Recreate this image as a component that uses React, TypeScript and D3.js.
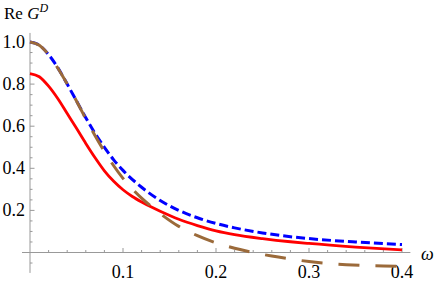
import React from "react";
import * as d3 from "d3";

const omegaRed = [0, 0.01, 0.02, 0.03, 0.04, 0.05, 0.06, 0.07, 0.08, 0.09, 0.1, 0.11, 0.12, 0.13, 0.14, 0.16, 0.18, 0.2, 0.22, 0.25, 0.28, 0.3, 0.35, 0.4];
const valRed = [0.85, 0.835, 0.79, 0.73, 0.66, 0.59, 0.518, 0.45, 0.388, 0.338, 0.298, 0.266, 0.24, 0.217, 0.196, 0.158, 0.128, 0.103, 0.085, 0.066, 0.051, 0.043, 0.026, 0.012];

const omegaBlue = [0, 0.01, 0.02, 0.03, 0.04, 0.05, 0.06, 0.07, 0.08, 0.09, 0.1, 0.12, 0.14, 0.16, 0.18, 0.2, 0.22, 0.25, 0.28, 0.3, 0.35, 0.4];
const valBlue = [1.0, 0.985, 0.94, 0.877, 0.8, 0.72, 0.64, 0.565, 0.5, 0.44, 0.39, 0.31, 0.247, 0.2, 0.165, 0.138, 0.117, 0.093, 0.075, 0.066, 0.05, 0.038];

const omegaBrown = [0, 0.01, 0.02, 0.03, 0.04, 0.05, 0.06, 0.07, 0.08, 0.09, 0.1, 0.11, 0.12, 0.13, 0.14, 0.16, 0.18, 0.2, 0.22, 0.24, 0.26, 0.28, 0.3, 0.32, 0.34, 0.36, 0.38, 0.4];
const valBrown = [1.0, 0.985, 0.94, 0.875, 0.8, 0.72, 0.635, 0.555, 0.48, 0.412, 0.352, 0.302, 0.258, 0.22, 0.185, 0.124, 0.08, 0.046, 0.02, 0.0, -0.017, -0.031, -0.043, -0.052, -0.058, -0.062, -0.064, -0.065];

const xMajor = [0.1, 0.2, 0.3, 0.4];
const xTickLabels = ["0.1", "0.2", "0.3", "0.4"];
const xMinor = [0.02, 0.04, 0.06, 0.08, 0.12, 0.14, 0.16, 0.18, 0.22, 0.24, 0.26, 0.28, 0.32, 0.34, 0.36, 0.38];
const yMajor = [0.2, 0.4, 0.6, 0.8, 1.0];
const yTickLabels = ["0.2", "0.4", "0.6", "0.8", "1.0"];
const yMinor = [-0.05, 0.05, 0.1, 0.15, 0.25, 0.3, 0.35, 0.45, 0.5, 0.55, 0.65, 0.7, 0.75, 0.85, 0.9, 0.95];

export default function App() {
  const W = 436, H = 282;
  const x = d3.scaleLinear().domain([0, 0.4]).range([30, 402]);
  const y = d3.scaleLinear().domain([0, 1]).range([252.5, 42]);
  const line = d3.line<[number, number]>().x(d => x(d[0])).y(d => y(d[1])).curve(d3.curveMonotoneX);
  const mk = (xs: number[], vs: number[]) => line(xs.map((o, i) => [o, vs[i]] as [number, number])) || "";
  const axisColor = "#999";
  const ff = "'Liberation Serif', 'Times New Roman', Times, serif";
  return (
    <svg width={W} height={H} style={{ position: "absolute", left: 0, top: 0 }}>
      <rect width={W} height={H} fill="white" />
      <line x1={x(-0.0086)} x2={x(0.409)} y1={y(0)} y2={y(0)} stroke={axisColor} strokeWidth={1} />
      <line x1={x(0)} x2={x(0)} y1={y(1.043)} y2={y(-0.097)} stroke={axisColor} strokeWidth={1} />
      {xMinor.map(t => (
        <line key={"xm" + t} x1={x(t)} x2={x(t)} y1={y(0)} y2={y(0) - 2.5} stroke={axisColor} />
      ))}
      {xMajor.map(t => (
        <line key={"xM" + t} x1={x(t)} x2={x(t)} y1={y(0)} y2={y(0) - 4.5} stroke={axisColor} />
      ))}
      {yMinor.map(t => (
        <line key={"ym" + t} x1={x(0)} x2={x(0) + 2.5} y1={y(t)} y2={y(t)} stroke={axisColor} />
      ))}
      {yMajor.map(t => (
        <line key={"yM" + t} x1={x(0)} x2={x(0) + 4.5} y1={y(t)} y2={y(t)} stroke={axisColor} />
      ))}
      <g fontFamily={ff} fontSize={18} fill="#000">
        {xMajor.map((t, i) => (
          <text key={"xl" + t} x={x(t)} y={278} textAnchor="middle">{xTickLabels[i]}</text>
        ))}
        {yMajor.map((t, i) => (
          <text key={"yl" + t} x={25} y={y(t) + 6} textAnchor="end">{yTickLabels[i]}</text>
        ))}
      </g>
      <path d={mk(omegaRed, valRed)} fill="none" stroke="#ff0000" strokeWidth={2.8} />
      <path d={mk(omegaBlue, valBlue)} fill="none" stroke="#0000ff" strokeWidth={3} strokeDasharray="9,4" />
      <path d={mk(omegaBrown, valBrown)} fill="none" stroke="#9b6a3a" strokeWidth={3} strokeDasharray="21,16" />
      <text x={4} y={19} fontFamily={ff} fontSize={17} fill="#000">
        <tspan>Re </tspan>
        <tspan fontStyle="italic">G</tspan>
        <tspan fontStyle="italic" fontSize={12} dy={-7}>D</tspan>
      </text>
      <text x={421} y={260} fontFamily={ff} fontSize={18} fontStyle="italic" fill="#000">ω</text>
    </svg>
  );
}
